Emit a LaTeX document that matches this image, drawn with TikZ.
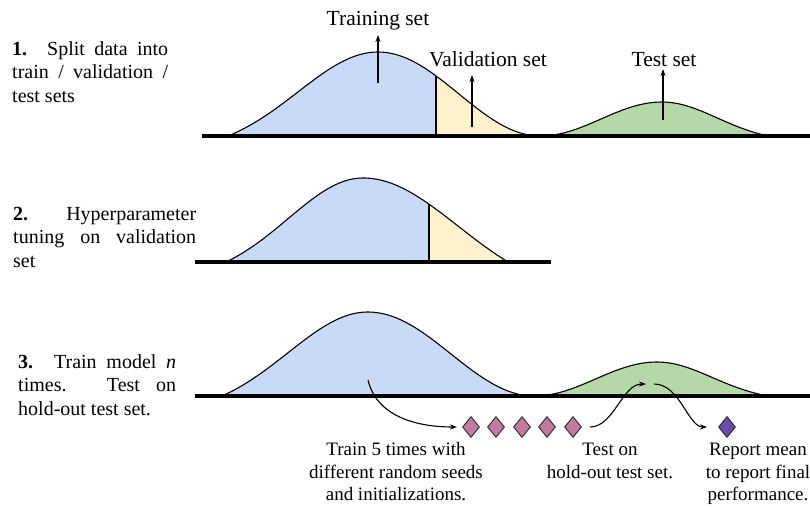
\documentclass[tikz,border=0pt]{standalone}
\usepackage{fontspec}
\setmainfont{Liberation Serif}
\usetikzlibrary{shapes.geometric,arrows.meta}

\definecolor{trainblue}{HTML}{C9DAF8}
\definecolor{valyellow}{HTML}{FFF2CC}
\definecolor{testgreen}{HTML}{B6D7A8}
\definecolor{runpink}{HTML}{C27BA0}
\definecolor{meanpurple}{HTML}{674EA7}

\tikzset{
  hump/.style={draw=black, line width=1.1pt, line join=round},
  groundline/.style={draw=black, line width=3.6pt},
  uparrow/.style={draw=black, line width=1.2pt, -{Stealth[length=7pt,width=5pt]}},
  flowarrow/.style={draw=black, line width=1.1pt, -{Stealth[length=7pt,width=5pt]}},
  setlabel/.style={inner sep=0pt, font=\fontsize{21.5}{25}\selectfont},
  stepnote/.style={inner sep=0pt, anchor=base west, font=\fontsize{20}{23.5}\selectfont},
  caption/.style={inner sep=0pt, anchor=base, font=\fontsize{19}{22.5}\selectfont},
  run/.style={diamond, draw=black!85, line width=0.9pt, fill=runpink,
    inner sep=0pt, minimum width=17pt, minimum height=21pt},
  meanrun/.style={run, fill=meanpurple},
}

\begin{document}
\begin{tikzpicture}[x=1pt, y=-1pt,
  declare function={
    gbell(\q,\ma,\sa,\wa)=(exp(-((\q-\ma)/\sa)*((\q-\ma)/\sa)/2)-exp(-(\wa/\sa)*(\wa/\sa)/2))/(1-exp(-(\wa/\sa)*(\wa/\sa)/2));
    rcos(\q,\ma,\wa)=(1+cos(180*((\q-\ma)/\wa)))/2;
  }]
\useasboundingbox (0,0) rectangle (810,506);

% ---------- step 1: train / validation / test split ----------
\fill[trainblue] (228,136)
  -- plot[domain=228:378, samples=40] (\x,{136-84*gbell(\x,378,80,150)})
  -- plot[domain=378:436, samples=20] (\x,{136-84*rcos(\x,378,162)})
  -- (436,136) -- cycle;
\fill[valyellow] (436,136)
  -- plot[domain=436:540, samples=30] (\x,{136-84*rcos(\x,378,162)}) -- cycle;
\fill[testgreen] (540,136)
  -- plot[domain=540:662, samples=30] (\x,{136-34*rcos(\x,662,122)})
  -- plot[domain=662:768, samples=30] (\x,{136-34*gbell(\x,662,55,106)}) -- cycle;
\draw[hump]
  plot[domain=228:378, samples=40] (\x,{136-84*gbell(\x,378,80,150)})
  -- plot[domain=378:540, samples=40] (\x,{136-84*rcos(\x,378,162)})
  -- plot[domain=540:662, samples=30] (\x,{136-34*rcos(\x,662,122)})
  -- plot[domain=662:768, samples=30] (\x,{136-34*gbell(\x,662,55,106)});
\draw[hump] (436,136) -- (436,{136-84*rcos(436,378,162)});
\draw[groundline] (202,136) -- (810,136);

\node[setlabel, anchor=base] (ltrain) at (378,25) {Training set};
\node[setlabel, anchor=base] (lval) at (488,66) {Validation set};
\node[setlabel, anchor=base] (ltest) at (664,66) {Test set};
\coordinate (ptrain) at (378,83);
\coordinate (pval) at (472,127);
\coordinate (ptest) at (663,120);
\draw[uparrow] (ptrain) -- (378,35);
\draw[uparrow] (pval) -- (472,75);
\draw[uparrow] (ptest) -- (663,69);

\node[stepnote] (step1) at (12,55) {\parbox[t]{156pt}{%
  \makebox[156pt][s]{\textbf{1.} Split data into}\\
  \makebox[156pt][s]{train / validation /}\\
  test sets}};

% ---------- step 2: hyperparameter tuning ----------
\fill[trainblue] (226,262)
  -- plot[domain=226:363, samples=40] (\x,{262-84*gbell(\x,363,75,137)})
  -- plot[domain=363:429, samples=20] (\x,{262-84*gbell(\x,363,95,145)})
  -- (429,262) -- cycle;
\fill[valyellow] (429,262)
  -- plot[domain=429:508, samples=30] (\x,{262-84*gbell(\x,363,95,145)}) -- cycle;
\draw[hump]
  plot[domain=226:363, samples=40] (\x,{262-84*gbell(\x,363,75,137)})
  -- plot[domain=363:508, samples=40] (\x,{262-84*gbell(\x,363,95,145)});
\draw[hump] (429,262) -- (429,{262-84*gbell(429,363,95,145)});
\draw[groundline] (195,262) -- (551,262);

\node[stepnote] (step2) at (13,220) {\parbox[t]{183pt}{%
  \makebox[183pt][s]{\textbf{2.} Hyperparameter}\\
  \makebox[183pt][s]{tuning on validation}\\
  set}};

% ---------- step 3: repeated training and testing ----------
\fill[trainblue] (222,396)
  -- plot[domain=222:368, samples=40] (\x,{396-84*gbell(\x,368,80,146)})
  -- plot[domain=368:534, samples=40] (\x,{396-84*rcos(\x,368,166)})
  -- cycle;
\fill[testgreen] (534,396)
  -- plot[domain=534:657, samples=30] (\x,{396-34*rcos(\x,657,123)})
  -- plot[domain=657:768, samples=30] (\x,{396-34*gbell(\x,657,55,111)}) -- cycle;
\draw[hump]
  plot[domain=222:368, samples=40] (\x,{396-84*gbell(\x,368,80,146)})
  -- plot[domain=368:534, samples=40] (\x,{396-84*rcos(\x,368,166)})
  -- plot[domain=534:657, samples=30] (\x,{396-34*rcos(\x,657,123)})
  -- plot[domain=657:768, samples=30] (\x,{396-34*gbell(\x,657,55,111)});
\draw[groundline] (195,396) -- (810,396);

\node[stepnote] (step3) at (18,368) {\parbox[t]{158pt}{%
  \makebox[158pt][s]{\textbf{3.} Train model \textit{n}}\\
  \makebox[158pt][s]{times. Test on}\\
  hold-out test set.}};

\node[run] (r1) at (471,427) {};
\node[run] (r2) at (496,427) {};
\node[run] (r3) at (522,427) {};
\node[run] (r4) at (547,427) {};
\node[run] (r5) at (573,427) {};
\node[meanrun] (rmean) at (727,427) {};

\coordinate (trainpick) at (368,380);
\coordinate (testin) at (646,384);
\coordinate (testout) at (654,384);
\draw[flowarrow, shorten >=5pt] (trainpick) .. controls (376,414) and (412,427) .. (r1.west);
\draw[flowarrow, shorten <=8pt] (r5.east) .. controls (614,427) and (622,384) .. (testin);
\draw[flowarrow, shorten >=11pt] (testout) .. controls (680,384) and (688,427) .. (rmean.west);

\node[caption] (ctrain) at (396,455.5) {\parbox[t]{220pt}{\centering
  Train 5 times with\\ different random seeds\\ and initializations.}};
\node[caption] (ctest) at (610,455.5) {\parbox[t]{150pt}{\centering
  Test on\\ hold-out test set.}};
\node[caption] (cmean) at (758,455.5) {\parbox[t]{130pt}{\centering
  Report mean\\ to report final\\ performance.}};
\end{tikzpicture}
\end{document}
